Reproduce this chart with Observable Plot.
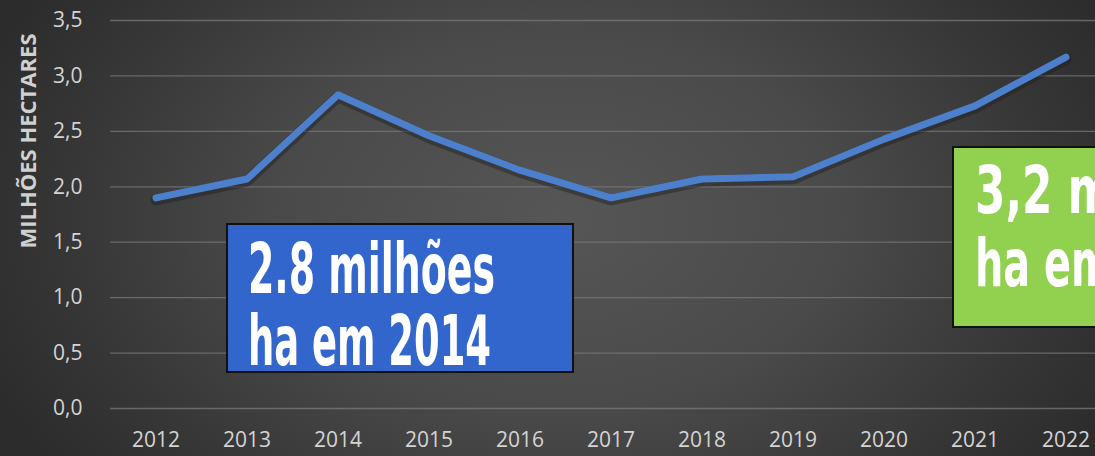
<!DOCTYPE html>
<html>
<head>
<meta charset="utf-8">
<script src="https://cdn.jsdelivr.net/npm/d3@7"></script>
<script src="https://cdn.jsdelivr.net/npm/@observablehq/plot@0.6"></script>
<style>
  html, body { margin: 0; padding: 0; overflow: hidden; }
  body {
    width: 1095px; height: 456px; position: relative;
    background: radial-gradient(ellipse 620px 420px at 560px 220px, #565656 0%, #4a4a4a 45%, #363636 80%, #2c2c2c 100%);
  }
  #chart { position: absolute; left: 0; top: 0; }
  #chart svg { background: transparent; overflow: hidden; }
  .ylabel {
    position: absolute; left: 27px; top: 141px;
    transform: translate(-50%, -50%) rotate(-90deg);
    font-family: "Open Sans", sans-serif; font-weight: 700; font-size: 22px;
    color: #d0d0d0; white-space: nowrap; letter-spacing: 0px;
  }
  #notes { position: absolute; left: 0; top: 0; pointer-events: none; }
</style>
</head>
<body>
<div id="chart"></div>
<div class="ylabel">MILHÕES HECTARES</div>
<svg id="notes" width="1095" height="456"></svg>
<script>
const years = [2012, 2013, 2014, 2015, 2016, 2017, 2018, 2019, 2020, 2021, 2022];
const area = [1.90, 2.07, 2.83, 2.46, 2.15, 1.90, 2.07, 2.09, 2.43, 2.73, 3.17];
const yTicks = [0, 0.5, 1, 1.5, 2, 2.5, 3, 3.5];
const yTickLabels = ["0,0", "0,5", "1,0", "1,5", "2,0", "2,5", "3,0", "3,5"];
const noteBlueLines = ["2.8 milhões", "ha em 2014"];
const noteGreenLines = ["3,2 milhões", "ha em 2022"];

const data = years.map((y, i) => ({year: y, value: area[i]}));

const chart = Plot.plot({
  width: 1095,
  height: 456,
  marginLeft: 110,
  marginRight: 0,
  marginTop: 20,
  marginBottom: 48,
  style: {background: "transparent", fontFamily: "Open Sans, sans-serif"},
  x: {domain: [2011.5, 2022.5], range: [110, 1111], axis: null},
  y: {domain: [0, 3.5], axis: null},
  marks: [
    Plot.gridY(yTicks, {stroke: "#7a7a7a", strokeOpacity: 0.75, strokeWidth: 1.3}),
    Plot.axisY(yTicks, {
      label: null, tickSize: 0, tickPadding: 28, fontSize: 21, fill: "#d4d4d4",
      tickFormat: (d) => yTickLabels[yTicks.indexOf(d)]
    }),
    Plot.axisX(years, {
      label: null, tickSize: 0, tickPadding: 24, fontSize: 21, fill: "#d4d4d4",
      tickFormat: (d) => String(d)
    }),
    Plot.line(data, {x: "year", y: "value", stroke: "#1e1e1e", strokeOpacity: 0.45, strokeWidth: 11, dy: 2, strokeLinecap: "round", strokeLinejoin: "round"}),
    Plot.line(data, {x: "year", y: "value", stroke: "#4d80cc", strokeWidth: 7, strokeLinecap: "round", strokeLinejoin: "round"})
  ]
});
document.getElementById("chart").appendChild(chart);

// Annotation boxes
const notes = d3.select("#notes");
function box(x, y, w, h, fill, lines, textX, base1, lineGap, fontSize, widths) {
  notes.append("rect").attr("x", x).attr("y", y).attr("width", w).attr("height", h)
    .attr("fill", fill).attr("stroke", "#111").attr("stroke-width", 2);
  lines.forEach((t, i) => {
    const el = notes.append("text")
      .attr("x", textX).attr("y", base1 + i * lineGap)
      .attr("fill", "#ffffff")
      .attr("font-family", "DejaVu Sans Condensed, DejaVu Sans, sans-serif")
      .attr("font-weight", 700)
      .attr("font-size", fontSize)
      .text(t);
    if (widths[i]) el.attr("textLength", widths[i]).attr("lengthAdjust", "spacingAndGlyphs");
  });
}
box(227, 224, 346, 148, "#3366cc", noteBlueLines, 248, 293, 72, 70, [247, 243]);
box(953, 147, 180, 180, "#92d050", noteGreenLines, 975, 213, 73, 66, [285, 262]);
</script>
</body>
</html>
